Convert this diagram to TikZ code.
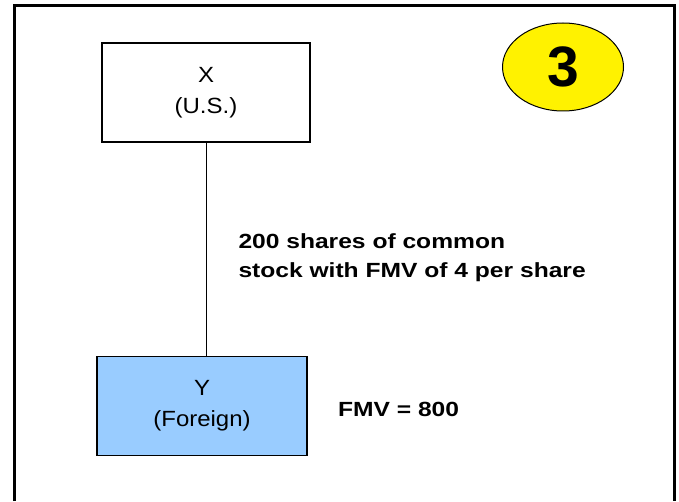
\documentclass[tikz,border=0pt]{standalone}
\usepackage{fontspec}
\setmainfont{Liberation Sans}
\newfontfamily\boxfont[FakeStretch=1.09]{Liberation Sans}
\newfontfamily\notefont[FakeStretch=1.2]{Liberation Sans}
\usetikzlibrary{positioning,shapes.geometric}
\definecolor{foreignblue}{RGB}{153,204,255}
\tikzstyle{entity} = [rectangle, draw, line width=1.2pt, minimum width=208pt, minimum height=99pt, align=center, font=\boxfont\fontsize{22}{31.5}\selectfont]
\tikzstyle{note} = [inner sep=0pt, align=left, font=\notefont\bfseries\fontsize{20.5}{29.5}\selectfont]

\begin{document}
\begin{tikzpicture}[x=1pt,y=1pt,line width=1pt]
  \useasboundingbox (0,0) rectangle (679,501);
  \draw[line width=3pt] (14.5,0) -- (14.5,495.5) -- (674.7,495.5) -- (674.7,0);

  \node[entity] (X) at (206,408.5) {X\\(U.S.)};
  \node[entity, fill=foreignblue, minimum width=210pt] (Y) [below=213pt of X, xshift=-4pt] {Y\\(Foreign)};
  \node[note, anchor=west] (shares) at (238,243.3) {200 shares of common\\stock with FMV of 4 per share};
  \node[note] (fmv) [right=30pt of Y, yshift=-4pt] {FMV = 800};
  \node[ellipse, draw, fill=yellow, minimum width=121pt, minimum height=88pt, font=\bfseries\fontsize{57}{60}\selectfont] (num) at (563,434) {3};

  \draw (X.south) -- (X.south |- Y.north);
\end{tikzpicture}
\end{document}
